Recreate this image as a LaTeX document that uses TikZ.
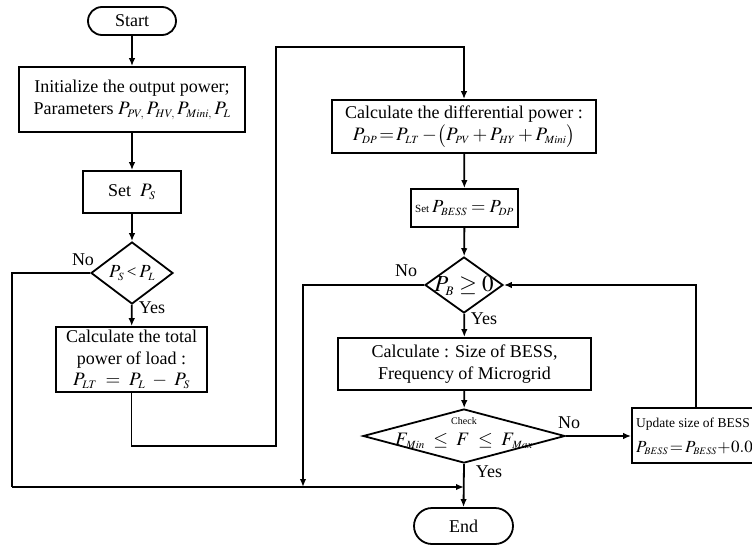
\documentclass[tikz,border=0pt]{standalone}
\usepackage{mathptmx}
\usepackage[no-math]{fontspec}
\setmainfont{Liberation Serif}
\DeclareMathSizes{18}{19}{11.5}{9}
\DeclareMathSizes{17.5}{19}{11}{9}
\DeclareMathSizes{17}{18.5}{11}{9}
\DeclareMathSizes{22}{23}{13}{10}
\DeclareMathSizes{16}{17}{10}{8}
\usetikzlibrary{shapes.geometric,arrows.meta}
\begin{document}
\begin{tikzpicture}[x=1pt,y=-1pt,
  every node/.style={font=\fontsize{18}{22}\selectfont},
  box/.style={draw, line width=1.8pt, rectangle, inner sep=0pt, align=center},
  term/.style={draw, line width=1.8pt, rectangle, inner sep=0pt},
  dec/.style={draw, line width=1.8pt, diamond, inner sep=0pt},
  lbl/.style={inner sep=0pt},
  conn/.style={line width=1.8pt},
  arr/.style={conn, -{Latex[length=8pt,width=6.5pt]}},
]
\useasboundingbox (0,0) rectangle (752,546);

% left column
\node[term, rounded corners=14pt, minimum width=88pt, minimum height=28pt] (start) at (132,21) {Start};
\node[box, minimum width=226pt, minimum height=65pt] (init) at (132,99.5)
  {Initialize the output power;\\ Parameters $P_{PV,}\,P_{HV,}\,P_{Mini,}\,P_L$};
\node[box, minimum width=98pt, minimum height=42pt] (setps) at (132,192) {Set\ \ $P_S$};
\node[dec, minimum width=82pt, minimum height=62pt] (d1) at (132,273) {};
\node[lbl, font=\fontsize{17}{20}\selectfont] (d1t) at (d1) {$P_S$\,<\,$P_L$};
\node[box, minimum width=151pt, minimum height=65pt, font=\fontsize{18}{21.5}\selectfont] (total) at (131.5,359.5)
  {Calculate the total\\ power of load :\\ $P_{LT}\ =\ P_L\ -\ P_S$};

% right column
\node[box, minimum width=264pt, minimum height=53pt, font=\fontsize{18}{22}\selectfont] (diff) at (464,126.5)
  {Calculate the differential power :\\ \fontsize{17.5}{20}\selectfont $P_{DP}\!=\!P_{LT}-\!\bigl(P_{PV}+P_{HY}+P_{Mini}\bigr)$};
\node[box, minimum width=107pt, minimum height=38pt] (setbess) at (464.5,208)
  {{\fontsize{11}{13}\selectfont Set}\,{\fontsize{17}{20}\selectfont $P_{BESS}=P_{DP}$}};
\node[dec, minimum width=78pt, minimum height=56pt] (d2) at (464,285) {};
\node[lbl, font=\fontsize{22}{24}\selectfont] (d2t) at (464,286) {$P_B\ge 0$};
\node[box, minimum width=253pt, minimum height=52pt] (calc) at (464.5,364)
  {Calculate : Size of BESS,\\ Frequency of Microgrid};
\node[dec, minimum width=202pt, minimum height=54pt] (d3) at (464,436) {};
\node[lbl, font=\fontsize{10}{12}\selectfont] (chk) at (464,421) {Check};
\node[lbl, font=\fontsize{17.5}{20}\selectfont] (d3t) at (464,441) {$F_{\,Min}\;\le\;F\;\le\;F_{\,Max}$};
\node[term, rounded corners=18pt, minimum width=99pt, minimum height=36pt] (end) at (463.5,526) {End};

% update box
\node[box, minimum width=158pt, minimum height=55pt] (upd) at (711,435.5) {};
\node[lbl, anchor=west, font=\fontsize{13.5}{15}\selectfont] (updt1) at (636,424) {Update size of BESS};
\node[lbl, anchor=west, font=\fontsize{16}{18}\selectfont] (updt2) at (636,448) {$P_{BESS}\!=\!P_{BESS}\!+\!0.01$};

% helper coordinates
\coordinate (c1) at (276,446);
\coordinate (c2) at (276,47);
\coordinate (lc) at (12,487);
\coordinate (jn) at (464,487);
\coordinate (rc) at (303,487);

% connectors
\draw[arr] (start) -- (init);
\draw[arr] (init) -- (setps);
\draw[arr] (setps) -- (d1);
\draw[arr] (d1) -- (total);
\draw[conn] (d1.west) -| (lc);
\draw[arr] (lc) -- (jn);
\draw[arr] (total.south) |- (c1) -- (c2) -| (diff.north);
\draw[arr] (diff) -- (setbess);
\draw[arr] (setbess) -- (d2);
\draw[arr] (d2) -- (calc);
\draw[arr] (d2.west) -| (rc);
\draw[arr] (calc) -- (d3);
\draw[arr] (d3.south) -- (end.north);
\draw[arr] (d3.east) -- (d3.east -| upd.west);
\draw[arr] ([xshift=65pt]upd.north west) |- (d2.east);

% labels
\node[lbl] (no1) at (83,260) {No};
\node[lbl] (yes1) at (152,308) {Yes};
\node[lbl] (no2) at (406,271) {No};
\node[lbl] (yes2) at (484,319) {Yes};
\node[lbl] (yes3) at (489,472) {Yes};
\node[lbl] (no3) at (569,423) {No};
\end{tikzpicture}
\end{document}
